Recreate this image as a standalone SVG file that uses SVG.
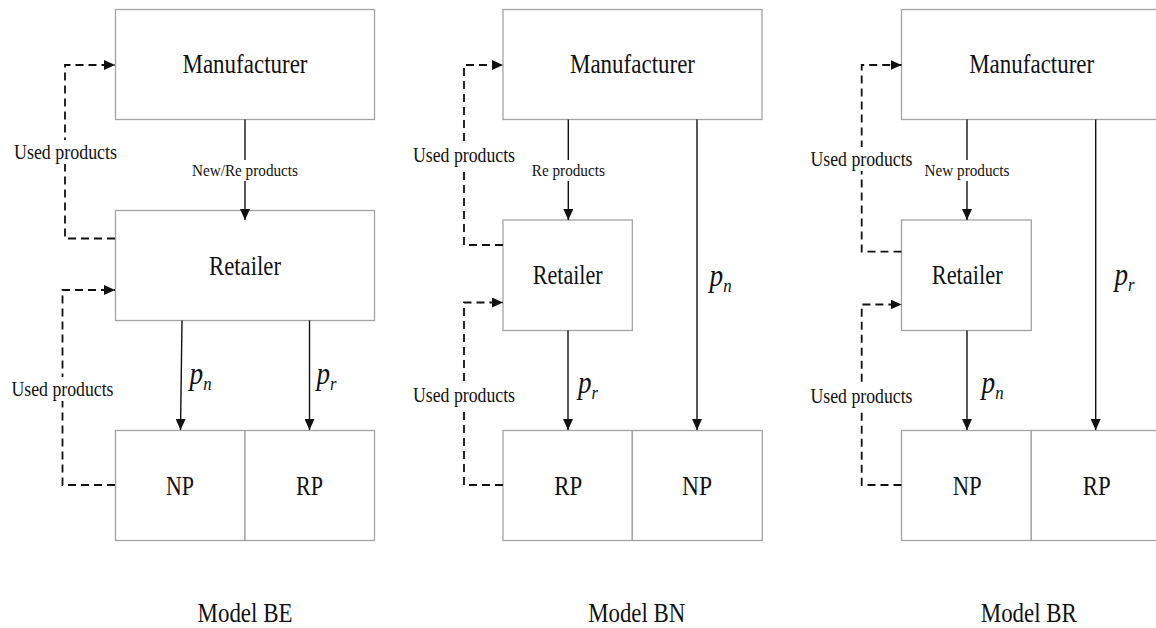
<svg xmlns="http://www.w3.org/2000/svg" width="1156" height="628" viewBox="0 0 1156 628">
<style>
.box{fill:#fff;stroke:#a3a3a3;stroke-width:1.3}
.t{fill:#111;text-anchor:middle}
.big{font-size:27px}
.mid{font-size:22px}
.sm{font-size:17px}
.cap{font-size:28px}
.it{font-style:italic;fill:#111;font-size:31px}
.solid{fill:none;stroke:#111;stroke-width:1.4}
.dash{fill:none;stroke:#111;stroke-width:1.8;stroke-dasharray:8 5}
.bg{fill:#fff}
</style>
<defs>
<marker id="ah" markerUnits="userSpaceOnUse" markerWidth="12" markerHeight="10" refX="11" refY="5" orient="auto">
<path d="M0,0 L11,5 L0,10 Z" fill="#111"/>
</marker>
</defs>
<rect width="1156" height="628" fill="#fff"/>
<g font-family="Liberation Serif, Times New Roman, serif">

<!-- Model BE nodes -->
<g id="be-manufacturer"><rect class="box" x="115.5" y="9.5" width="259" height="110"/><text class="t big" x="245" y="73" textLength="125" lengthAdjust="spacingAndGlyphs">Manufacturer</text></g>
<g id="be-retailer"><rect class="box" x="115.5" y="210.5" width="259" height="110"/><text class="t big" x="245" y="275" textLength="72" lengthAdjust="spacingAndGlyphs">Retailer</text></g>
<g id="be-np"><rect class="box" x="115.5" y="430.5" width="129.5" height="110"/><text class="t big" x="180" y="495" textLength="28" lengthAdjust="spacingAndGlyphs">NP</text></g>
<g id="be-rp"><rect class="box" x="245" y="430.5" width="129.5" height="110"/><text class="t big" x="309.5" y="495" textLength="27" lengthAdjust="spacingAndGlyphs">RP</text></g>

<!-- Model BN nodes -->
<g id="bn-manufacturer"><rect class="box" x="503" y="9.5" width="259" height="110"/><text class="t big" x="632.5" y="73" textLength="125" lengthAdjust="spacingAndGlyphs">Manufacturer</text></g>
<g id="bn-retailer"><rect class="box" x="503" y="220" width="129.3" height="110.5"/><text class="t big" x="567.7" y="284" textLength="70" lengthAdjust="spacingAndGlyphs">Retailer</text></g>
<g id="bn-rp"><rect class="box" x="503" y="430.5" width="129.3" height="110"/><text class="t big" x="568.3" y="495" textLength="28" lengthAdjust="spacingAndGlyphs">RP</text></g>
<g id="bn-np"><rect class="box" x="632.3" y="430.5" width="130" height="110"/><text class="t big" x="697" y="495" textLength="30" lengthAdjust="spacingAndGlyphs">NP</text></g>

<!-- Model BR nodes -->
<g id="br-manufacturer"><rect class="box" x="901.5" y="9.5" width="259" height="110"/><text class="t big" x="1031.7" y="73" textLength="125" lengthAdjust="spacingAndGlyphs">Manufacturer</text></g>
<g id="br-retailer"><rect class="box" x="901.5" y="220" width="129.8" height="110.5"/><text class="t big" x="967.2" y="284" textLength="71" lengthAdjust="spacingAndGlyphs">Retailer</text></g>
<g id="br-np"><rect class="box" x="901.5" y="430.5" width="129.8" height="110"/><text class="t big" x="967.2" y="495" textLength="29" lengthAdjust="spacingAndGlyphs">NP</text></g>
<g id="br-rp"><rect class="box" x="1031.3" y="430.5" width="129" height="110"/><text class="t big" x="1096.8" y="495" textLength="28" lengthAdjust="spacingAndGlyphs">RP</text></g>

<!-- Connectors -->
<g id="connectors">
<line class="solid" x1="245" y1="119.5" x2="245" y2="220" marker-end="url(#ah)"/>
<line class="solid" x1="182" y1="320.5" x2="180.5" y2="430" marker-end="url(#ah)"/>
<line class="solid" x1="309.5" y1="320.5" x2="309.5" y2="430" marker-end="url(#ah)"/>
<polyline class="dash" points="115,238.5 65,238.5 65,65 115,65" marker-end="url(#ah)"/>
<polyline class="dash" points="115,485 62.5,485 62.5,290 115,290" marker-end="url(#ah)"/>
<line class="solid" x1="568.3" y1="119.5" x2="568.3" y2="220" marker-end="url(#ah)"/>
<line class="solid" x1="697" y1="119.5" x2="697" y2="430" marker-end="url(#ah)"/>
<line class="solid" x1="568" y1="330.5" x2="568" y2="430" marker-end="url(#ah)"/>
<polyline class="dash" points="503,245 464,245 464,65 503,65" marker-end="url(#ah)"/>
<polyline class="dash" points="503,485 464,485 464,302.5 503,302.5" marker-end="url(#ah)"/>
<line class="solid" x1="967" y1="119.5" x2="967" y2="220" marker-end="url(#ah)"/>
<line class="solid" x1="1095.7" y1="119.5" x2="1095.7" y2="430" marker-end="url(#ah)"/>
<line class="solid" x1="967" y1="330.5" x2="967" y2="430" marker-end="url(#ah)"/>
<polyline class="dash" points="901.5,251.7 861.7,251.7 861.7,65 901.5,65" marker-end="url(#ah)"/>
<polyline class="dash" points="901.5,485 861.7,485 861.7,304.5 901.5,304.5" marker-end="url(#ah)"/>
</g>

<!-- Connector labels -->
<g id="edge-labels">
<rect class="bg" x="191" y="160" width="107" height="21"/>
<text class="t sm" x="245" y="175.5" textLength="106" lengthAdjust="spacingAndGlyphs">New/Re products</text>
<rect class="bg" x="531" y="160" width="75" height="21"/>
<text class="t sm" x="568.3" y="175.5" textLength="73" lengthAdjust="spacingAndGlyphs">Re products</text>
<rect class="bg" x="924" y="160" width="86" height="21"/>
<text class="t sm" x="967" y="175.5" textLength="85" lengthAdjust="spacingAndGlyphs">New products</text>

<rect class="bg" x="13" y="140" width="105" height="24"/>
<text class="t mid" x="65.5" y="158.5" textLength="103" lengthAdjust="spacingAndGlyphs">Used products</text>
<rect class="bg" x="11" y="377" width="103" height="24"/>
<text class="t mid" x="62.5" y="395.5" textLength="102" lengthAdjust="spacingAndGlyphs">Used products</text>

<rect class="bg" x="412" y="143" width="104" height="24"/>
<text class="t mid" x="464" y="161.5" textLength="102" lengthAdjust="spacingAndGlyphs">Used products</text>
<rect class="bg" x="412" y="383" width="104" height="24"/>
<text class="t mid" x="464" y="401.5" textLength="102" lengthAdjust="spacingAndGlyphs">Used products</text>

<rect class="bg" x="809" y="147" width="105" height="24"/>
<text class="t mid" x="861.5" y="165.5" textLength="102" lengthAdjust="spacingAndGlyphs">Used products</text>
<rect class="bg" x="809" y="384" width="105" height="24"/>
<text class="t mid" x="861.5" y="402.5" textLength="102" lengthAdjust="spacingAndGlyphs">Used products</text>

<text class="it" x="189.5" y="384" textLength="22" lengthAdjust="spacingAndGlyphs">p<tspan font-size="19" dy="6">n</tspan></text>
<text class="it" x="316.5" y="384" textLength="20" lengthAdjust="spacingAndGlyphs">p<tspan font-size="19" dy="6">r</tspan></text>
<text class="it" x="709.5" y="286" textLength="22" lengthAdjust="spacingAndGlyphs">p<tspan font-size="19" dy="6">n</tspan></text>
<text class="it" x="578" y="393" textLength="20" lengthAdjust="spacingAndGlyphs">p<tspan font-size="19" dy="6">r</tspan></text>
<text class="it" x="1114.5" y="285" textLength="20" lengthAdjust="spacingAndGlyphs">p<tspan font-size="19" dy="6">r</tspan></text>
<text class="it" x="981.5" y="393" textLength="22" lengthAdjust="spacingAndGlyphs">p<tspan font-size="19" dy="6">n</tspan></text>
</g>

<!-- Captions -->
<g id="captions">
<text class="t cap" x="245" y="621.5" textLength="95" lengthAdjust="spacingAndGlyphs">Model BE</text>
<text class="t cap" x="636.7" y="621.5" textLength="97" lengthAdjust="spacingAndGlyphs">Model BN</text>
<text class="t cap" x="1028.8" y="621.5" textLength="96" lengthAdjust="spacingAndGlyphs">Model BR</text>
</g>
</g>
</svg>
